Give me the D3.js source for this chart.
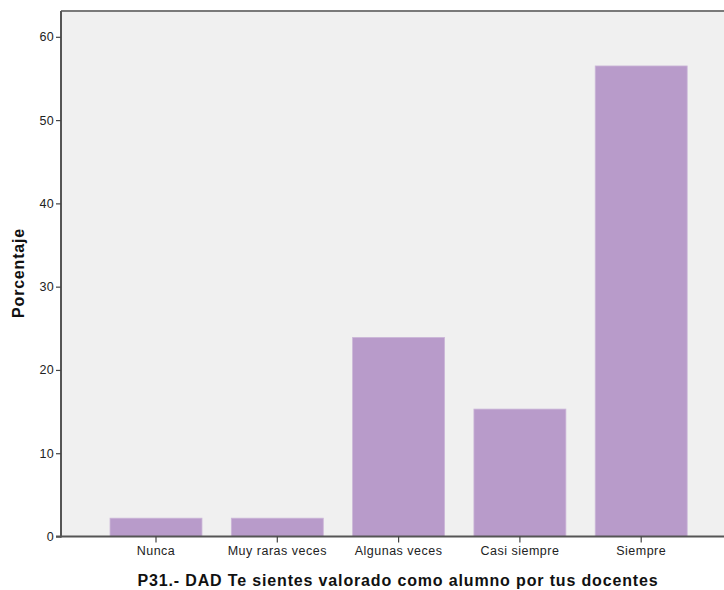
<!DOCTYPE html>
<html><head><meta charset="utf-8">
<script src="https://cdn.jsdelivr.net/npm/d3@7"></script>
<style>body{margin:0;background:#fff;} svg{display:block;font-family:"Liberation Sans",Arial,sans-serif;}</style>
</head><body>
<svg id="c" width="724" height="590"></svg>
<script>
const categories = ["Nunca","Muy raras veces","Algunas veces","Casi siempre","Siempre"];
const values = [2.2, 2.2, 23.9, 15.3, 56.5];
const yTicks = [0,10,20,30,40,50,60];
const xTitle = "P31.- DAD Te sientes valorado como alumno por tus docentes";
const yTitle = "Porcentaje";

(function(){
const svg = d3.select("#c");
const pL = 61, pT = 11, pB = 536.5, pR = 724;
const y = d3.scaleLinear().domain([0, 63.1]).range([pB, pT]);
const x = d3.scaleBand().domain(categories).range([95.35, 701.85]).paddingInner(0.242).paddingOuter(0.121);

svg.append("rect").attr("x", pL).attr("y", pT).attr("width", pR-pL).attr("height", pB-pT).attr("fill", "#f0f0f0");
svg.append("line").attr("x1", pL).attr("x2", pR).attr("y1", pT).attr("y2", pT).attr("stroke", "#7a7a7a").attr("stroke-width", 2);

svg.selectAll("rect.bar").data(values).enter().append("rect").attr("class","bar")
  .attr("x", (d,i)=>x(categories[i])).attr("width", x.bandwidth())
  .attr("y", d=>y(d)).attr("height", d=>y(0)-y(d))
  .attr("fill", "#b89bca").attr("stroke", "#cbb6d8").attr("stroke-width", 0.8);

const yAxis = svg.append("g").attr("transform", `translate(${pL},0)`)
  .call(d3.axisLeft(y).tickValues(yTicks).tickSize(5).tickPadding(2));
yAxis.select(".domain").attr("stroke", "#555").attr("stroke-width", 2).attr("d", `M0,${pT}V${pB+1}`);
yAxis.selectAll(".tick line").attr("stroke", "#444").attr("stroke-width", 1.2);
yAxis.selectAll(".tick text").attr("font-size", 12.5).attr("letter-spacing", 0.3).attr("fill", "#222").attr("font-family", "'Liberation Sans',Arial,sans-serif");

const xAxis = svg.append("g").attr("transform", `translate(0,${pB})`)
  .call(d3.axisBottom(x).tickSize(6).tickPadding(4));
xAxis.select(".domain").attr("stroke", "#555").attr("stroke-width", 2).attr("d", `M${pL-5},0H${pR}`);
xAxis.selectAll(".tick line").attr("stroke", "#444").attr("stroke-width", 1.2);
xAxis.selectAll(".tick text").attr("font-size", 12.5).attr("letter-spacing", 0.5).attr("fill", "#222").attr("font-family", "'Liberation Sans',Arial,sans-serif");

svg.append("text").attr("x", 398).attr("y", 586).attr("text-anchor", "middle")
  .attr("font-size", 16).attr("letter-spacing", 0.85).attr("font-weight", "bold").attr("fill", "#111").text(xTitle);
svg.append("text").attr("transform", "translate(24,273) rotate(-90)").attr("text-anchor", "middle")
  .attr("font-size", 16).attr("letter-spacing", 0.8).attr("font-weight", "bold").attr("fill", "#111").text(yTitle);
})();
</script>
</body></html>
